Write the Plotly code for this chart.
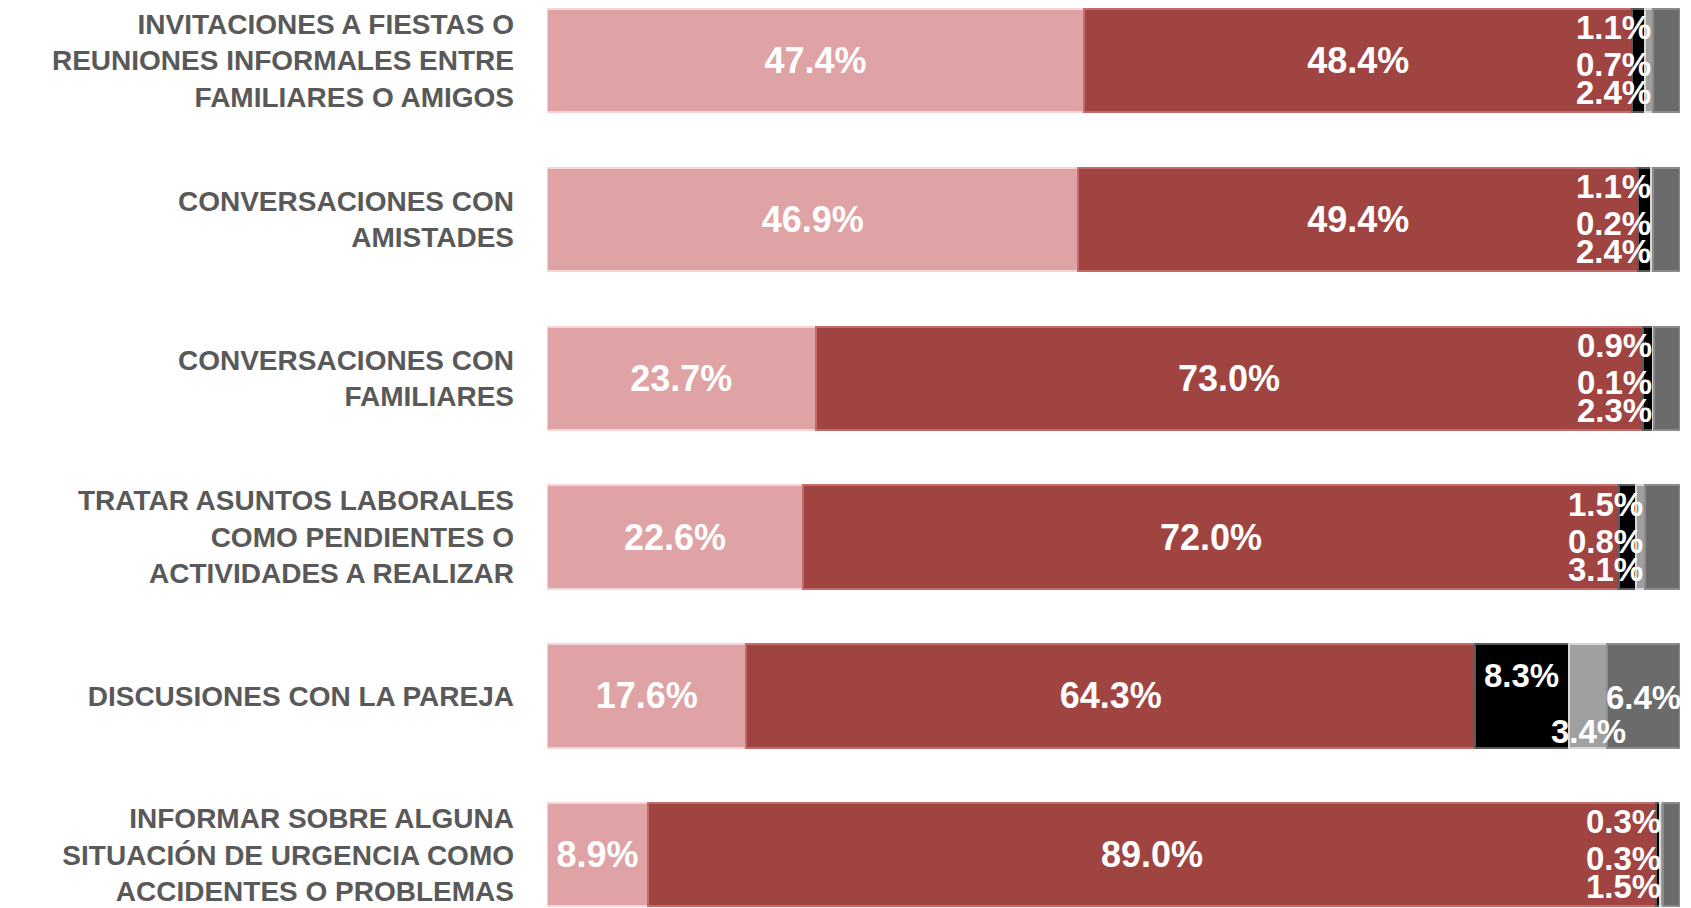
import plotly.graph_objects as go

categories = [
    "INVITACIONES A FIESTAS O<br>REUNIONES INFORMALES ENTRE<br>FAMILIARES O AMIGOS",
    "CONVERSACIONES CON<br>AMISTADES",
    "CONVERSACIONES CON<br>FAMILIARES",
    "TRATAR ASUNTOS LABORALES<br>COMO PENDIENTES O<br>ACTIVIDADES A REALIZAR",
    "DISCUSIONES CON LA PAREJA",
    "INFORMAR SOBRE ALGUNA<br>SITUACIÓN DE URGENCIA COMO<br>ACCIDENTES O PROBLEMAS",
]
serie_rosa = [47.4, 46.9, 23.7, 22.6, 17.6, 8.9]
serie_roja = [48.4, 49.4, 73.0, 72.0, 64.3, 89.0]
serie_negra = [1.1, 1.1, 0.9, 1.5, 8.3, 0.3]
serie_gris_claro = [0.7, 0.2, 0.1, 0.8, 3.4, 0.3]
serie_gris_oscuro = [2.4, 2.4, 2.3, 3.1, 6.4, 1.5]

series = [serie_rosa, serie_roja, serie_negra, serie_gris_claro, serie_gris_oscuro]
colors = ["#E0A3A5", "#A04442", "#000000", "#A0A0A0", "#6B6B6B"]
edge_colors = ["#F6D3D4", "#C46C6A", "#5A5A5A", "#D8D8D8", "#8C8C8C"]
labelled_inside = [True, True, False, False, False]

FONT = "Liberation Sans, Arial, sans-serif"
LABEL_FONT = dict(family=FONT, size=36, color="white")
SMALL_FONT = dict(family=FONT, size=33, color="white")

fig = go.Figure()
for vals, col, edge, lab in zip(series, colors, edge_colors, labelled_inside):
    fig.add_trace(go.Bar(
        y=categories, x=vals, orientation="h", width=0.65,
        marker=dict(color=col, line=dict(color=edge, width=2)),
        text=[f"<b>{v:.1f}%</b>" if lab else "" for v in vals],
        textposition="inside", insidetextanchor="middle",
        textfont=LABEL_FONT, hoverinfo="skip", showlegend=False,
    ))

# labels for the thin segments (black, light gray, dark gray), stacked vertically
stack_shifts = [33, -4, -32]
for i, cat in enumerate(categories):
    small = [serie_negra[i], serie_gris_claro[i], serie_gris_oscuro[i]]
    base = serie_rosa[i] + serie_roja[i]
    if min(small) >= 3:
        # wide enough: place in each segment
        starts = [base, base + small[0], base + small[0] + small[1]]
        shifts = [20, -36, -2]
        for v, s, sh in zip(small, starts, shifts):
            fig.add_annotation(x=s + v / 2, y=cat, text=f"<b>{v:.1f}%</b>",
                               showarrow=False, xanchor="center", yshift=sh,
                               font=SMALL_FONT)
    else:
        anchor_x = base + small[0] + small[1]
        for v, sh in zip(small, stack_shifts):
            fig.add_annotation(x=anchor_x, y=cat, text=f"<b>{v:.1f}%</b>",
                               showarrow=False, xanchor="right", yshift=sh,
                               font=SMALL_FONT)

fig.update_layout(
    barmode="stack",
    width=1683, height=900,
    margin=dict(l=539, r=11, t=0, b=0, autoexpand=False),
    paper_bgcolor="white", plot_bgcolor="white",
    xaxis=dict(range=[0, 100], visible=False, fixedrange=True),
    yaxis=dict(
        type="category", range=[5.335, -0.33],
        tickfont=dict(family=FONT, size=28, color="#595959"),
        ticklabelstandoff=32, showgrid=False, zeroline=False, showline=False,
        ticks="", automargin=False,
    ),
)
fig.update_yaxes(tickprefix="<b>", ticksuffix="</b>")
fig.write_html("out.html")
